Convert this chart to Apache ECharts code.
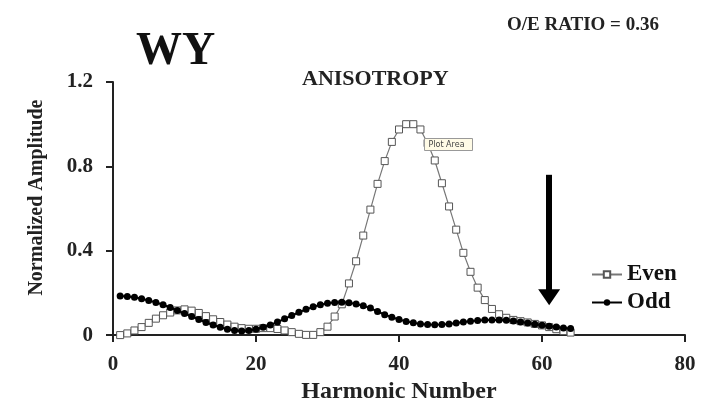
<!DOCTYPE html>
<html><head><meta charset="utf-8">
<script src="https://cdn.jsdelivr.net/npm/echarts@6/dist/echarts.min.js"></script>
<style>html,body{margin:0;padding:0;background:#fff}#c{width:708px;height:409px}</style>
</head><body><div id="c"></div>
<script>
const harmonics = [1,2,3,4,5,6,7,8,9,10,11,12,13,14,15,16,17,18,19,20,21,22,23,24,25,26,27,28,29,30,31,32,
  33,34,35,36,37,38,39,40,41,42,43,44,45,46,47,48,49,50,51,52,53,54,55,56,57,58,59,60,61,62,63,64];
const evenValues = [0.000,0.008,0.022,0.038,0.058,0.078,0.094,0.107,0.117,0.122,0.116,0.105,0.090,0.075,0.062,0.050,
  0.040,0.033,0.030,0.030,0.033,0.033,0.029,0.022,0.014,0.006,0.001,0.001,0.014,0.040,0.088,0.146,
  0.245,0.350,0.472,0.595,0.717,0.825,0.916,0.975,1.000,1.000,0.975,0.910,0.828,0.720,0.610,0.500,
  0.390,0.300,0.225,0.166,0.124,0.099,0.082,0.072,0.066,0.060,0.053,0.046,0.038,0.028,0.019,0.012];
const oddValues = [0.185,0.183,0.179,0.172,0.164,0.155,0.144,0.131,0.117,0.102,0.088,0.074,0.060,0.048,0.037,0.028,
  0.022,0.020,0.022,0.028,0.037,0.048,0.062,0.077,0.093,0.108,0.122,0.134,0.144,0.151,0.155,0.156,
  0.153,0.147,0.139,0.128,0.112,0.097,0.085,0.074,0.065,0.058,0.053,0.050,0.049,0.050,0.053,0.057,
  0.062,0.066,0.069,0.071,0.072,0.072,0.070,0.067,0.062,0.057,0.052,0.047,0.042,0.038,0.034,0.031];
const seriesNames = ['Even','Odd'];
const xTicks = [0,20,40,60,80];
const yTicks = [0,0.4,0.8,1.2];
const arrowHarmonic = 61;
const arrowFrom = 0.76;
const arrowTo = 0.18;

const serif = 'Liberation Serif';
const chart = echarts.init(document.getElementById('c'), null, {renderer:'canvas'});
const pair = arr => harmonics.map((h,i)=>[h,arr[i]]);
chart.setOption({
  animation:false,
  backgroundColor:'#fff',
  title:[
    {text:'WY', left:131, top:24, textStyle:{fontFamily:serif, fontWeight:'bold', fontSize:46, color:'#111'}},
    {text:'O/E RATIO = 0.36', left:502, top:11, textStyle:{fontFamily:serif, fontWeight:'bold', fontSize:19, color:'#222'}},
    {text:'ANISOTROPY', left:297, top:63, textStyle:{fontFamily:serif, fontWeight:'bold', fontSize:22, color:'#222'}}
  ],
  grid:{left:113, right:23, top:82, bottom:72, containLabel:false},
  legend:{
    data:seriesNames, orient:'vertical', left:586, top:258, itemWidth:30, itemHeight:8, itemGap:5,
    textStyle:{fontFamily:serif, fontWeight:'bold', fontSize:23, color:'#111'}
  },
  xAxis:{
    type:'value', min:xTicks[0], max:xTicks[xTicks.length-1], interval:20,
    name:'Harmonic Number', nameLocation:'middle', nameGap:38,
    nameTextStyle:{fontFamily:serif, fontWeight:'bold', fontSize:24, color:'#222'},
    axisLine:{lineStyle:{color:'#222', width:2}},
    axisTick:{show:true, length:7, lineStyle:{color:'#222', width:2}},
    axisLabel:{fontFamily:serif, fontWeight:'bold', fontSize:21, color:'#222', margin:19},
    splitLine:{show:false}
  },
  yAxis:{
    type:'value', min:yTicks[0], max:yTicks[yTicks.length-1], interval:0.4,
    name:'Normalized Amplitude', nameLocation:'middle', nameGap:66,
    nameTextStyle:{fontFamily:serif, fontWeight:'bold', fontSize:20, color:'#222', padding:[0,0,0,22]},
    axisLine:{show:true, lineStyle:{color:'#222', width:2}},
    axisTick:{show:true, length:7, lineStyle:{color:'#222', width:2}},
    axisLabel:{fontFamily:serif, fontWeight:'bold', fontSize:21, color:'#222', margin:20,
      formatter:v => v===0 ? '0' : v.toFixed(1)},
    splitLine:{show:false}
  },
  series:[
    {name:seriesNames[0], type:'line', data:pair(evenValues), symbol:'rect', symbolSize:7,
     itemStyle:{color:'#fff', borderColor:'#555', borderWidth:1},
     lineStyle:{color:'#777', width:1.2}, z:2},
    {name:seriesNames[1], type:'line', data:pair(oddValues), symbol:'circle', symbolSize:7,
     itemStyle:{color:'#000'}, lineStyle:{color:'#000', width:2}, z:3,
     markLine:{silent:true, symbol:['none','triangle'], symbolSize:[22,16], animation:false,
       lineStyle:{color:'#000', width:6, type:'solid'}, label:{show:false}, emphasis:{disabled:true},
       data:[[{coord:[arrowHarmonic, arrowFrom]},{coord:[arrowHarmonic, arrowTo]}]]}}
  ],
  graphic:[
    {type:'group', left:424, top:138, z:100, children:[
      {type:'rect', z:100, shape:{x:0,y:0,width:48,height:12}, style:{fill:'#fffbe6', stroke:'#999', lineWidth:1}},
      {type:'text', z:101, style:{x:4, y:2, text:'Plot Area', font:'8px "DejaVu Sans"', fill:'#444'}}
    ]}
  ]
});
</script></body></html>
